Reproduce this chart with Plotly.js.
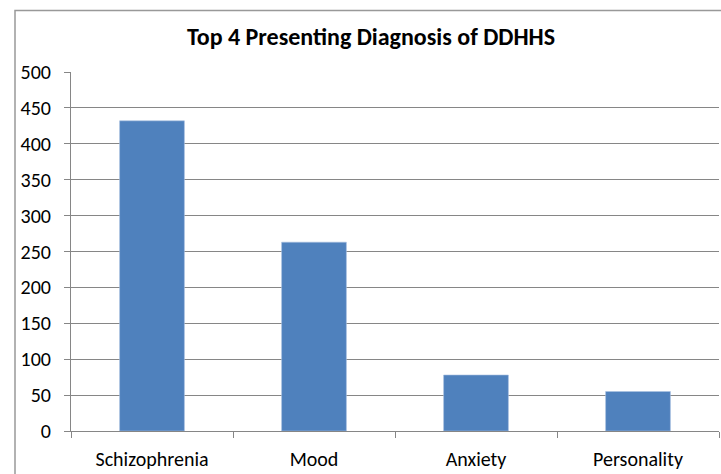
<!DOCTYPE html>
<html><head><meta charset="utf-8">
<script src="https://cdn.plot.ly/plotly-3.0.1.min.js"></script>
<style>body{margin:0;background:#fff}#c{width:721px;height:474px}</style>
</head><body><div id="c"></div>
<script>
const categories = ["Schizophrenia", "Mood", "Anxiety", "Personality"];
const values = [432, 263, 78, 55];
const yTicks = [0, 50, 100, 150, 200, 250, 300, 350, 400, 450, 500];

const W = 721, H = 474;
const L = 71, R = 2, T = 71.5, B = 43;
const pw = W - L - R, ph = H - T - B;
const font = "Carlito, 'Liberation Sans Narrow', 'Open Sans', sans-serif";

Plotly.newPlot('c', [{
  type: 'bar', x: categories, y: values,
  marker: {color: '#4F81BD', line: {color: '#a9c1e0', width: 0.6}},
  width: 0.4, hoverinfo: 'none'
}], {
  width: W, height: H,
  margin: {l: L, r: R, t: T, b: B, pad: 0},
  paper_bgcolor: '#fff', plot_bgcolor: '#fff',
  showlegend: false,
  title: {text: '<b>Top 4 Presenting Diagnosis of DDHHS</b>', x: 371/W, xanchor: 'center', y: 1 - 37/H, yanchor: 'middle',
          font: {family: font, size: 24, color: '#000'}},
  xaxis: {type: 'category', range: [-0.5, 3.5], showgrid: false, showline: true, linecolor: '#868686', linewidth: 1,
          ticks: 'outside', tickson: 'boundaries', ticklen: 6, tickcolor: '#868686',
          tickfont: {family: font, size: 20, color: '#000'}, ticklabelstandoff: 10, zeroline: false},
  yaxis: {range: [0, 500], tickvals: yTicks, ticktext: yTicks.map(String), showgrid: true, gridcolor: '#868686', gridwidth: 1,
          showline: true, linecolor: '#868686', linewidth: 1, ticks: 'outside', ticklen: 6, tickcolor: '#868686',
          tickfont: {family: font, size: 20, color: '#000'}, zeroline: false, ticklabelstandoff: 9},
  shapes: [{type: 'rect', xref: 'paper', yref: 'paper', x0: (15 - L) / pw, x1: (W + 20 - L) / pw,
            y0: -(B + 20) / ph, y1: (H - B - 10) / ph,
            line: {color: '#999', width: 1.5}, fillcolor: 'rgba(0,0,0,0)', layer: 'below'}]
}, {staticPlot: true});
</script></body></html>
